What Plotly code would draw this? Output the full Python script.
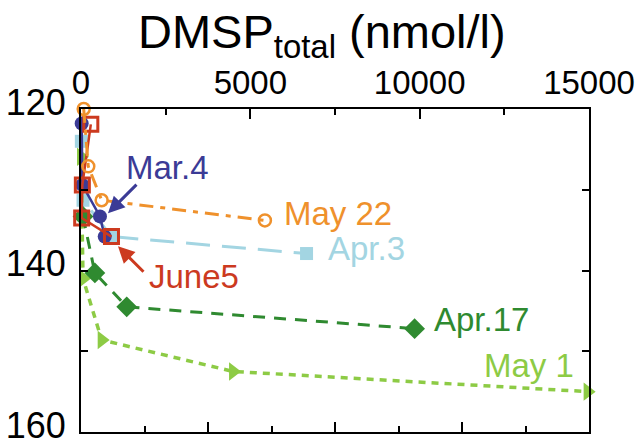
import plotly.graph_objects as go

# DMSP_total (nmol/l) versus depth for each sampling date
mar4_dmsp = [20, 40, 560, 700]
mar4_depth = [121.8, 129.4, 133.3, 135.8]

apr3_dmsp = [10, 60, 900, 6660]
apr3_depth = [124.0, 131.3, 135.8, 137.9]

apr17_dmsp = [60, 410, 1350, 9850]
apr17_depth = [133.3, 140.3, 144.5, 147.2]

may1_dmsp = [0, 60, 610, 4490, 14960]
may1_depth = [125.9, 141.0, 148.6, 152.5, 155.0]

may22_dmsp = [80, 215, 610, 5430]
may22_depth = [120.0, 127.1, 131.3, 133.8]

june5_dmsp = [290, 40, 20, 900]
june5_depth = [121.9, 129.4, 133.5, 135.8]

x_ticks = [0, 5000, 10000, 15000]
x_ticktext = ["0", "5000", "10000", "15000"]
y_ticks = [120, 130, 140, 150, 160]
y_ticktext = ["120", "", "140", "", "160"]

NAVY = "#3b3b96"
LBLUE = "#a3d5e2"
DGREEN = "#2f8a30"
LGREEN = "#8dcb45"
ORANGE = "#ef912c"
RED = "#cc3a1f"
FONT = "Liberation Sans, Arial, sans-serif"

fig = go.Figure()

fig.add_trace(go.Scatter(
    x=apr3_dmsp, y=apr3_depth, mode="lines+markers", cliponaxis=False,
    line=dict(color=LBLUE, width=3, dash="24px,12px"),
    marker=dict(symbol="square", size=13, color=LBLUE)))
fig.add_trace(go.Scatter(
    x=may1_dmsp, y=may1_depth, mode="lines+markers", cliponaxis=False,
    line=dict(color=LGREEN, width=3.5, dash="7px,6px"),
    marker=dict(symbol="triangle-right", size=16, color=LGREEN)))
fig.add_trace(go.Scatter(
    x=apr17_dmsp, y=apr17_depth, mode="lines+markers", cliponaxis=False,
    line=dict(color=DGREEN, width=3, dash="12px,9px"),
    marker=dict(symbol="diamond", size=16, color=DGREEN)))
fig.add_trace(go.Scatter(
    x=mar4_dmsp, y=mar4_depth, mode="lines+markers", cliponaxis=False,
    line=dict(color=NAVY, width=2.5),
    marker=dict(symbol="circle", size=14, color=NAVY)))
fig.add_trace(go.Scatter(
    x=june5_dmsp, y=june5_depth, mode="lines+markers", cliponaxis=False,
    line=dict(color=RED, width=2.5),
    marker=dict(symbol="square-open", size=14, color=RED, line=dict(width=3))))
fig.add_trace(go.Scatter(
    x=may22_dmsp, y=may22_depth, mode="lines+markers", cliponaxis=False,
    line=dict(color=ORANGE, width=3, dash="14px,7px,5px,7px"),
    marker=dict(symbol="circle-open", size=12, color=ORANGE, line=dict(width=2.5))))

# bottom frame axis (tick marks only)
fig.add_trace(go.Scatter(x=[0, 8], y=[None, None], xaxis="x2", yaxis="y",
                         mode="lines", hoverinfo="skip", showlegend=False))

labels = [
    ("Mar.4", 1300, 127.2, NAVY),
    ("May 22", 5965, 132.9, ORANGE),
    ("Apr.3", 7263, 137.3, LBLUE),
    ("June5", 1978, 140.8, RED),
    ("Apr.17", 10393, 146.1, DGREEN),
    ("May 1", 11869, 151.8, LGREEN),
]
for text, xv, yv, col in labels:
    fig.add_annotation(x=xv, y=yv, text=text, showarrow=False,
                       xanchor="left", yanchor="middle", borderpad=0,
                       font=dict(family=FONT, size=33, color=col))

# pointer arrows
fig.add_annotation(x=797, y=132.9, ax=30, ay=-30, text="", showarrow=True,
                   arrowhead=2, arrowsize=1.1, arrowwidth=3, arrowcolor=NAVY, standoff=0)
fig.add_annotation(x=1092, y=137.0, ax=27, ay=27, text="", showarrow=True,
                   arrowhead=2, arrowsize=1.1, arrowwidth=3, arrowcolor=RED, standoff=0)

fig.add_annotation(xref="paper", yref="paper", x=0.475, y=1.23,
                   text="DMSP<sub>total</sub> (nmol/l)", showarrow=False,
                   xanchor="center", yanchor="middle",
                   font=dict(family=FONT, size=47, color="black"))

fig.update_layout(
    width=639, height=443,
    margin=dict(l=81, r=50, t=109, b=11, autoexpand=False),
    paper_bgcolor="white", plot_bgcolor="white",
    showlegend=False,
    font=dict(family=FONT, color="black"),
    xaxis=dict(side="top", range=[0, 15000], tickvals=x_ticks, ticktext=x_ticktext,
               ticks="inside", ticklen=10, tickwidth=2, tickcolor="black",
               minor=dict(dtick=2500, ticks="inside", ticklen=6, tickwidth=2, tickcolor="black"),
               showline=True, linecolor="black", linewidth=2, automargin=False,
               showgrid=False, zeroline=False, ticklabeloverflow="allow",
               tickfont=dict(family=FONT, size=33, color="black")),
    xaxis2=dict(overlaying="x", side="bottom", anchor="y", range=[0, 8],
                dtick=2, ticks="inside", ticklen=10, tickwidth=2, tickcolor="black",
                minor=dict(dtick=1, ticks="inside", ticklen=6, tickwidth=2, tickcolor="black"),
                showticklabels=False, showline=True, linecolor="black", linewidth=2,
                automargin=False, showgrid=False, zeroline=False),
    yaxis=dict(range=[160, 120], tickvals=y_ticks, ticktext=y_ticktext,
               ticks="inside", ticklen=7, tickwidth=2, tickcolor="black",
               showline=True, mirror="ticks", linecolor="black", linewidth=2,
               showgrid=False, zeroline=False, ticklabelshift=7, automargin=False,
               ticklabeloverflow="allow", ticklabelstandoff=6,
               tickfont=dict(family=FONT, size=36, color="black")),
)

fig.write_html("out.html")
